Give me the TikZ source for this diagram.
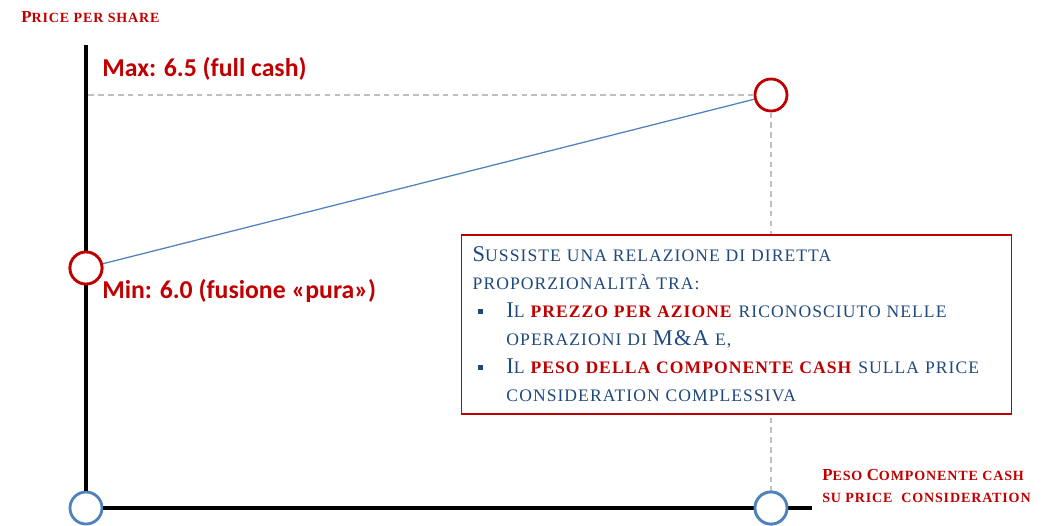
\documentclass[tikz,border=0pt]{standalone}
\usepackage{fontspec}
\setmainfont{Liberation Serif}
\newfontfamily\calibri{Carlito}
\newfontfamily\scfont[LetterSpace=6]{Liberation Serif}
\usetikzlibrary{positioning}

\definecolor{darkred}{HTML}{C00000}
\definecolor{textblue}{HTML}{1F497D}
\definecolor{lineblue}{HTML}{4F81BD}
\definecolor{guidegray}{HTML}{BFBFBF}

% fake small caps: big initial, small rest
\newcommand{\initcap}[1]{{\fontsize{16}{19.9}\selectfont #1}}
\newcommand{\labcap}[1]{{\fontsize{12}{12}\selectfont #1}}
\newcommand{\redsc}[1]{\textcolor{darkred}{\textbf{#1}}}
\newcommand{\bul}{\makebox[24pt][l]{\hspace{3.6pt}\raisebox{2.5pt}{\rule{3.8pt}{3.8pt}}}}

\begin{document}
\begin{tikzpicture}[x=0.025cm,y=-0.025cm,
	axis/.style={line width=2.2pt, black},
	guide/.style={guidegray, line width=0.8pt, dash pattern=on 4pt off 3pt},
	trend/.style={lineblue, line width=0.9pt},
	redpt/.style={circle, draw=darkred, fill=white, line width=2pt, minimum size=0.8cm, inner sep=0pt},
	bluept/.style={circle, draw=lineblue, fill=white, line width=2pt, minimum size=0.8cm, inner sep=0pt},
	bigval/.style={text=darkred, font=\calibri\bfseries\fontsize{18.3}{20}\selectfont, inner sep=0pt},
	axlabel/.style={text=darkred, font=\scfont\bfseries\fontsize{10}{15}\selectfont, align=left, inner sep=0pt},
	infobox/.style={draw=darkred, line width=0.8pt, fill=white, text=textblue, align=left, text width=13.185cm, minimum width=13.725cm, minimum height=4.475cm, inner xsep=0.27cm, font=\scfont\fontsize{12.5}{19.9}\selectfont}]
	\useasboundingbox (0,0) rectangle (1054,526);

	% nodes
	\coordinate (ytop) at (86,45);
	\coordinate (xend) at (812,508);
	\coordinate (maxlvl) at (86,95);
	\node[bluept] (orig) at (86,508) {};
	\node[bluept] (cashpt) at (771,508) {};
	\node[redpt] (minpt) at (86,268) {};
	\node[redpt] (maxpt) at (771,95) {};

	% edges
	\draw[guide] (maxpt) -- (maxlvl);
	\draw[guide] (maxpt) -- (cashpt);
	\draw[axis] (ytop) -- (orig);
	\draw[axis] (orig) -- (xend);
	\draw[trend] (minpt) -- (maxpt);
	\node[bluept] at (cashpt) {};
	\node[redpt] at (minpt) {};

	% labels
	\node[axlabel, anchor=base west] (ytitle) at (21,22) {\labcap{P}RICE PER SHARE};
	\node[axlabel, anchor=base west] (xtitle) at (822,502) {\labcap{P}ESO \labcap{C}OMPONENTE CASH\\SU PRICE\ \ CONSIDERATION};
	\node[bigval, anchor=base west] (maxlab) at (102,76) {Max: 6.5 (full cash)};
	\node[bigval, anchor=base west] (minlab) at (102,298) {Min: 6.0 (fusione «pura»)};

	% note
	\node[infobox] (note) at (736.5,324.5) {%
		\initcap{S}USSISTE UNA RELAZIONE DI DIRETTA\\
		PROPORZIONALITÀ TRA:\\
		\bul\initcap{I}L \redsc{PREZZO PER AZIONE} RICONOSCIUTO NELLE\\
		\hspace*{24pt}OPERAZIONI DI \initcap{M\&A} E,\\
		\bul\initcap{I}L \redsc{PESO DELLA COMPONENTE CASH} SULLA PRICE\\
		\hspace*{24pt}CONSIDERATION COMPLESSIVA};
\end{tikzpicture}
\end{document}
